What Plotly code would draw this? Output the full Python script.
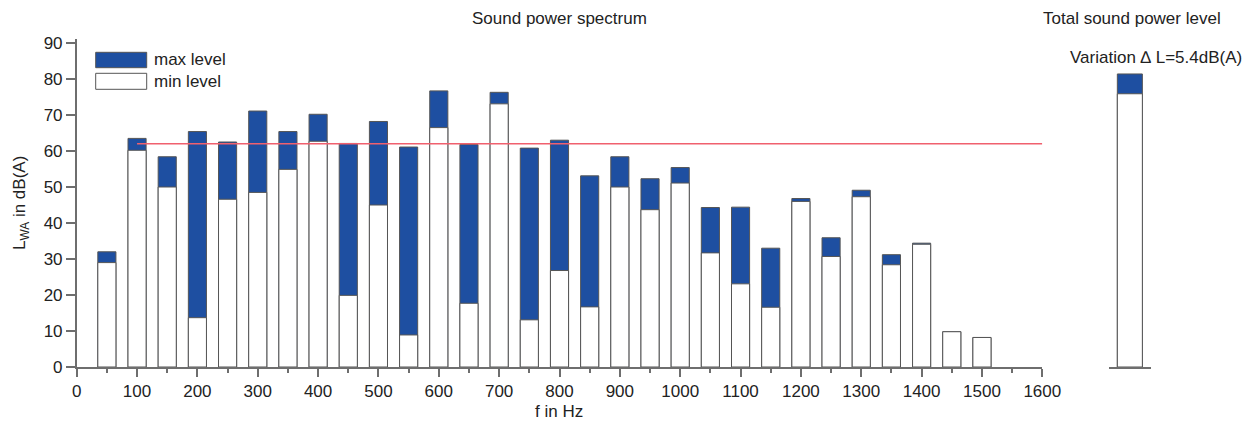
import plotly.graph_objects as go

freqs = [50, 100, 150, 200, 250, 300, 350, 400, 450, 500, 550, 600, 650, 700, 750,
         800, 850, 900, 950, 1000, 1050, 1100, 1150, 1200, 1250, 1300, 1350, 1400, 1450, 1500]
max_level = [32.0, 63.5, 58.4, 65.4, 62.5, 71.1, 65.4, 70.2, 62.1, 68.2, 61.1, 76.7, 61.8, 76.3, 60.8,
             63.0, 53.1, 58.4, 52.3, 55.4, 44.3, 44.4, 33.0, 46.8, 35.9, 49.1, 31.2, 34.4, 9.8, 8.2]
min_level = [29.0, 60.2, 50.0, 13.7, 46.6, 48.5, 54.9, 62.7, 19.9, 45.0, 8.9, 66.5, 17.7, 73.1, 13.1,
             26.8, 16.7, 50.0, 43.7, 51.1, 31.7, 23.1, 16.6, 46.0, 30.7, 47.3, 28.4, 34.1, 9.8, 8.2]
total_max = [81.4]
total_min = [75.9]
limit_level = 62
limit_range = [100, 1600]
x_ticks = list(range(0, 1700, 100))
y_ticks = list(range(0, 100, 10))

BLUE = "#1e4fa1"
OUTLINE = "#555555"
AXIS = "#6e6e6e"
FONT = "Liberation Sans, Arial, sans-serif"
W, H = 1250, 422
OFF = 8  # page body margin in the browser


def px(x):
    return (x - OFF) / W


def py(y):
    return 1 - (y - OFF) / H


fig = go.Figure()
fig.add_trace(go.Bar(x=freqs, y=max_level, width=30, marker=dict(color=BLUE, line=dict(color=OUTLINE, width=1)),
                     name="max level", xaxis="x", yaxis="y", showlegend=False))
fig.add_trace(go.Bar(x=freqs, y=min_level, width=30, marker=dict(color="white", line=dict(color=OUTLINE, width=1)),
                     name="min level", xaxis="x", yaxis="y", showlegend=False))
fig.add_trace(go.Bar(x=[0.5], y=total_max, width=0.6, marker=dict(color=BLUE, line=dict(color=OUTLINE, width=1)),
                     xaxis="x2", yaxis="y2", showlegend=False))
fig.add_trace(go.Bar(x=[0.5], y=total_min, width=0.6, marker=dict(color="white", line=dict(color=OUTLINE, width=1)),
                     xaxis="x2", yaxis="y2", showlegend=False))

ydom = [py(367), py(39.4)]

fig.update_layout(
    width=W, height=H, barmode="overlay",
    margin=dict(l=0, r=0, t=0, b=0),
    paper_bgcolor="white", plot_bgcolor="white",
    font=dict(family=FONT, size=17, color="#222222"),
    xaxis=dict(domain=[px(76.7), px(1042.3)], range=[0, 1600], tickvals=x_ticks,
               showline=True, linecolor=AXIS, linewidth=1.5, ticks="outside", ticklen=8,
               tickcolor=AXIS, tickwidth=1.5, showgrid=False, zeroline=False,
               minor=dict(dtick=50, ticks="outside", ticklen=4, tickcolor=AXIS, tickwidth=1.5, showgrid=False),
               tickfont=dict(size=17), automargin=False),
    yaxis=dict(domain=ydom, range=[0, 91], tickvals=y_ticks,
               showline=True, linecolor=AXIS, linewidth=1.5, ticks="outside", ticklen=9,
               tickcolor=AXIS, tickwidth=1.5, showgrid=False, zeroline=False,
               tickfont=dict(size=17), automargin=False),
    xaxis2=dict(domain=[px(1109), px(1150.7)], range=[0, 1], anchor="y2",
                showline=True, linecolor=AXIS, linewidth=1.5, ticks="", showticklabels=False,
                showgrid=False, zeroline=False, automargin=False),
    yaxis2=dict(domain=ydom, range=[0, 91], anchor="x2", visible=False, showgrid=False, zeroline=False),
)

fig.add_shape(type="line", xref="x", yref="y", x0=limit_range[0], x1=limit_range[1], y0=limit_level, y1=limit_level,
              line=dict(color="#f0606e", width=1.5), layer="above")

# legend drawn as boxes + labels
fig.add_shape(type="rect", xref="paper", yref="paper", x0=px(95.7), x1=px(146.7), y0=py(67.7), y1=py(52.3),
              fillcolor=BLUE, line=dict(color=OUTLINE, width=1))
fig.add_shape(type="rect", xref="paper", yref="paper", x0=px(95.7), x1=px(146.7), y0=py(89.3), y1=py(73.3),
              fillcolor="white", line=dict(color=OUTLINE, width=1))
fig.add_annotation(text="max level", xref="paper", yref="paper", x=px(151.5), y=py(60), xanchor="left",
                   yanchor="middle", showarrow=False, font=dict(size=17))
fig.add_annotation(text="min level", xref="paper", yref="paper", x=px(151.5), y=py(81.5), xanchor="left",
                   yanchor="middle", showarrow=False, font=dict(size=17))

fig.add_annotation(text="Sound power spectrum", xref="paper", yref="paper", x=px(559), y=py(19),
                   xanchor="center", yanchor="middle", showarrow=False, font=dict(size=17))
fig.add_annotation(text="Total sound power level", xref="paper", yref="paper", x=px(1132), y=py(19),
                   xanchor="center", yanchor="middle", showarrow=False, font=dict(size=17))
fig.add_annotation(text="Variation \u2206 L=5.4dB(A)", xref="paper", yref="paper", x=px(1156), y=py(57),
                   xanchor="center", yanchor="middle", showarrow=False, font=dict(size=17))
fig.add_annotation(text="L<sub>WA</sub> in dB(A)", xref="paper", yref="paper", x=px(21), y=py(203),
                   xanchor="center", yanchor="middle", showarrow=False, textangle=-90, font=dict(size=17))
fig.add_annotation(text="f in Hz", xref="paper", yref="paper", x=px(559), y=py(411),
                   xanchor="center", yanchor="middle", showarrow=False, font=dict(size=17))

fig.write_html("out.html")
